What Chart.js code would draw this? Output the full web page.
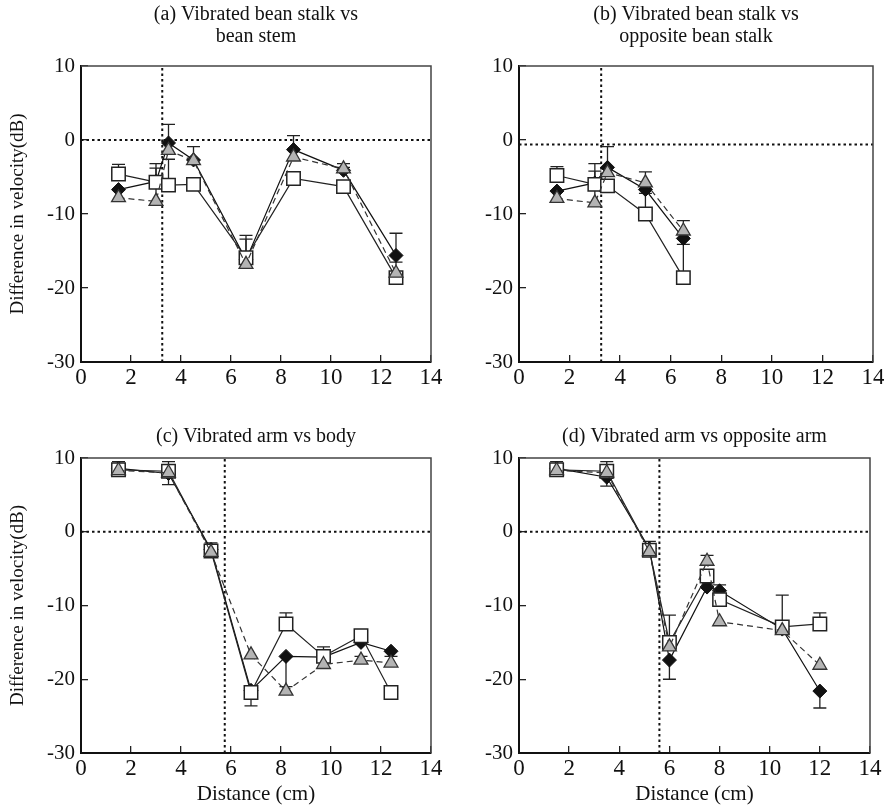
<!DOCTYPE html>
<html>
<head>
<meta charset="utf-8">
<script src="https://cdn.jsdelivr.net/npm/chart.js@4.4.1/dist/chart.umd.min.js"></script>
<style>
  body { margin: 0; background: #fff; }
  #wrap { position: relative; width: 884px; height: 812px; background: #fff; }
  .panel { position: absolute; }
  canvas { display: block; }
</style>
</head>
<body>
<div id="wrap">
  <div class="panel" style="left:0;top:0"><canvas id="chartA" width="442" height="400"></canvas></div>
  <div class="panel" style="left:442px;top:0"><canvas id="chartB" width="442" height="400"></canvas></div>
  <div class="panel" style="left:0;top:400px"><canvas id="chartC" width="442" height="412"></canvas></div>
  <div class="panel" style="left:442px;top:400px"><canvas id="chartD" width="442" height="412"></canvas></div>
</div>
<script>
// axis ticks
const xTicks = [0, 2, 4, 6, 8, 10, 12, 14];
const yTicks = [10, 0, -10, -20, -30];

// (a) vibrated bean stalk vs bean stem
const aDist = [1.5, 3.0, 3.5, 4.5, 6.6, 8.5, 10.5, 12.6];
const aSquare = [-4.6, -5.7, -6.1, -6.0, -15.9, -5.2, -6.3, -18.6];
const aDiamond = [-6.7, -5.6, -0.4, -2.7, -16.2, -1.3, -4.1, -15.6];
const aTriangle = [-7.8, -8.3, -1.4, -2.8, -16.8, -2.3, -3.9, -18.0];
const aSquareErr = [-3.3, -3.2, -2.6, null, -13.4, -4.3, null, null];
const aDiamondErr = [null, null, 2.1, null, -12.9, 0.6, -3.7, -12.6];
const aTriangleErr = [null, -3.8, null, -0.9, null, null, -3.2, -16.5];

// (b) vibrated bean stalk vs opposite bean stalk
const bDist = [1.5, 3.0, 3.5, 5.0, 6.5];
const bSquare = [-4.8, -6.0, -6.2, -10.0, -18.6];
const bDiamond = [-6.9, -5.8, -3.7, -6.7, -13.3];
const bTriangle = [-7.9, -8.5, -4.4, -5.8, -12.3];
const bSquareErr = [-3.6, -3.2, null, -7.2, -14.1];
const bDiamondErr = [null, null, -0.9, null, null];
const bTriangleErr = [null, -4.2, null, -4.3, -10.9];

// (c) vibrated arm vs body
const cDist = [1.5, 3.5, 5.2, 6.8, 8.2, 9.7, 11.2, 12.4];
const cSquare = [8.4, 8.2, -2.6, -21.8, -12.5, -16.9, -14.1, -21.8];
const cDiamond = [8.6, 7.9, -2.4, -21.5, -16.9, -17.0, -15.0, -16.2];
const cTriangle = [8.3, 8.0, -2.8, -16.7, -21.6, -18.0, -17.4, -17.8];
const cSquareErr = [9.5, 9.5, -1.5, -23.6, -11.0, -15.6, null, null];
const cDiamondErr = [null, 6.4, null, null, -21.0, null, null, null];
const cTriangleErr = [null, null, null, null, null, null, -16.9, -16.9];

// (d) vibrated arm vs opposite arm
const dDist = [1.5, 3.5, 5.2, 6.0, 7.5, 8.0, 10.5, 12.0];
const dSquare = [8.4, 8.2, -2.5, -15.0, -6.0, -9.2, -12.9, -12.5];
const dDiamond = [8.6, 7.4, -2.3, -17.4, -7.5, -8.0, -13.2, -21.6];
const dTriangle = [8.3, 8.0, -2.7, -15.6, -4.0, -12.2, -13.4, -18.1];
const dSquareErr = [9.5, 9.5, -1.3, -11.3, null, -7.2, -8.6, -11.0];
const dDiamondErr = [null, 6.2, null, -20.0, null, null, null, -23.9];
const dTriangleErr = [null, null, null, null, -3.2, null, null, null];

// dotted reference lines (vertical distance, horizontal level)
const refX = [3.25, 3.25, 5.75, 5.6];
const refY = [0, -0.6, 0, 0];

const serif = "'Liberation Serif', 'Times New Roman', serif";
Chart.defaults.font.family = serif;
Chart.defaults.color = '#111';

const pts = (xs, ys) => xs.map((x, i) => ({ x: x, y: ys[i] }));

// one-sided error bars with caps
const errorBars = {
  id: 'errorBars',
  beforeDatasetsDraw(chart) {
    const { ctx } = chart;
    const x = chart.scales.x, y = chart.scales.y;
    ctx.save();
    ctx.strokeStyle = '#222';
    ctx.lineWidth = 1.3;
    chart.data.datasets.forEach(ds => {
      if (!ds.errorEnds) return;
      ds.data.forEach((p, j) => {
        const e = ds.errorEnds[j];
        if (e == null) return;
        const px = x.getPixelForValue(p.x);
        const y0 = y.getPixelForValue(p.y);
        const y1 = y.getPixelForValue(e);
        ctx.beginPath();
        ctx.moveTo(px, y0);
        ctx.lineTo(px, y1);
        ctx.moveTo(px - 6.5, y1);
        ctx.lineTo(px + 6.5, y1);
        ctx.stroke();
      });
    });
    ctx.restore();
  }
};

// top and right edges of the frame
const frame = {
  id: 'frame',
  afterDraw(chart) {
    const { ctx, chartArea: a } = chart;
    ctx.save();
    ctx.strokeStyle = '#444';
    ctx.lineWidth = 1.5;
    ctx.beginPath();
    ctx.moveTo(a.left, a.top);
    ctx.lineTo(a.right, a.top);
    ctx.lineTo(a.right, a.bottom);
    ctx.stroke();
    ctx.restore();
  }
};

function makePanel(id, p) {
  const refColor = '#111';
  new Chart(document.getElementById(id), {
    type: 'scatter',
    data: {
      datasets: [
        {
          data: pts(p.dist, p.triangle), errorEnds: p.triangleErr, order: 1,
          showLine: true, borderColor: '#333', borderWidth: 1.2, borderDash: [6, 4],
          pointStyle: 'triangle', pointRadius: 8, pointBackgroundColor: '#b4b4b4',
          pointBorderColor: '#333', pointBorderWidth: 1.3
        },
        {
          data: pts(p.dist, p.square), errorEnds: p.squareErr, order: 2,
          showLine: true, borderColor: '#222', borderWidth: 1.2,
          pointStyle: 'rect', pointRadius: 9.5, pointBackgroundColor: '#fff',
          pointBorderColor: '#222', pointBorderWidth: 1.5
        },
        {
          data: pts(p.dist, p.diamond), errorEnds: p.diamondErr, order: 3,
          showLine: true, borderColor: '#111', borderWidth: 1.2,
          pointStyle: 'rectRot', pointRadius: 7, pointBackgroundColor: '#111',
          pointBorderColor: '#111', pointBorderWidth: 1
        },
        {
          data: [{ x: p.refX, y: -30 }, { x: p.refX, y: 10 }], order: 4,
          showLine: true, borderColor: refColor, borderWidth: 2, borderDash: [2.5, 3],
          pointRadius: 0
        },
        {
          data: [{ x: 0, y: p.refY }, { x: 14, y: p.refY }], order: 5,
          showLine: true, borderColor: refColor, borderWidth: 2, borderDash: [2.5, 3],
          pointRadius: 0
        }
      ]
    },
    options: {
      responsive: false,
      animation: false,
      events: [],
      layout: { padding: { left: 0, right: p.padRight, top: 0, bottom: 0 } },
      plugins: {
        legend: { display: false },
        tooltip: { enabled: false },
        title: {
          display: true, text: p.title, fullSize: false, color: '#111',
          font: { size: 20, weight: 'normal', lineHeight: 1.1 },
          padding: p.titlePad
        }
      },
      scales: {
        x: {
          type: 'linear', min: 0, max: 14,
          afterBuildTicks: s => { s.ticks = xTicks.map(v => ({ value: v })); },
          afterFit: s => { s.height = p.xHeight; s.paddingLeft = 0; s.paddingRight = 0; },
          border: { display: true, color: '#111', width: 2 },
          grid: { drawOnChartArea: false, drawTicks: true, tickLength: -7, color: '#222', lineWidth: 1.3 },
          ticks: { font: { size: 23 }, color: '#111', padding: 9, maxRotation: 0 },
          title: {
            display: !!p.xTitle, text: p.xTitle, color: '#111',
            font: { size: 21, lineHeight: 1.15 }, padding: { top: 0, bottom: 5 }
          }
        },
        y: {
          type: 'linear', min: -30, max: 10,
          afterBuildTicks: s => { s.ticks = yTicks.slice().reverse().map(v => ({ value: v })); },
          afterFit: s => { s.width = p.yWidth; s.paddingTop = 0; s.paddingBottom = 0; },
          border: { display: true, color: '#111', width: 2 },
          grid: { drawOnChartArea: false, drawTicks: true, tickLength: -7, color: '#222', lineWidth: 1.3 },
          ticks: { font: { size: 21 }, color: '#111', padding: 13 },
          title: {
            display: !!p.yTitle, text: p.yTitle, color: '#111',
            font: { size: 19, lineHeight: 1.2 }, padding: { top: 7, bottom: 0 }
          }
        }
      }
    },
    plugins: [errorBars, frame]
  });
}

makePanel('chartA', {
  dist: aDist, square: aSquare, diamond: aDiamond, triangle: aTriangle,
  squareErr: aSquareErr, diamondErr: aDiamondErr, triangleErr: aTriangleErr,
  refX: refX[0], refY: refY[0],
  title: ['(a) Vibrated bean stalk vs', 'bean stem'], titlePad: { top: 4, bottom: 18 },
  yTitle: 'Difference in velocity(dB)', xTitle: '',
  yWidth: 81, xHeight: 38, padRight: 8
});
makePanel('chartB', {
  dist: bDist, square: bSquare, diamond: bDiamond, triangle: bTriangle,
  squareErr: bSquareErr, diamondErr: bDiamondErr, triangleErr: bTriangleErr,
  refX: refX[1], refY: refY[1],
  title: ['(b) Vibrated bean stalk vs', 'opposite bean stalk'], titlePad: { top: 4, bottom: 18 },
  yTitle: '', xTitle: '',
  yWidth: 77, xHeight: 38, padRight: 11
});
makePanel('chartC', {
  dist: cDist, square: cSquare, diamond: cDiamond, triangle: cTriangle,
  squareErr: cSquareErr, diamondErr: cDiamondErr, triangleErr: cTriangleErr,
  refX: refX[2], refY: refY[2],
  title: '(c) Vibrated arm vs body', titlePad: { top: 26, bottom: 10 },
  yTitle: 'Difference in velocity(dB)', xTitle: 'Distance (cm)',
  yWidth: 81, xHeight: 59, padRight: 8
});
makePanel('chartD', {
  dist: dDist, square: dSquare, diamond: dDiamond, triangle: dTriangle,
  squareErr: dSquareErr, diamondErr: dDiamondErr, triangleErr: dTriangleErr,
  refX: refX[3], refY: refY[3],
  title: '(d) Vibrated arm vs opposite arm', titlePad: { top: 26, bottom: 10 },
  yTitle: '', xTitle: 'Distance (cm)',
  yWidth: 77, xHeight: 59, padRight: 14
});
</script>
</body>
</html>
